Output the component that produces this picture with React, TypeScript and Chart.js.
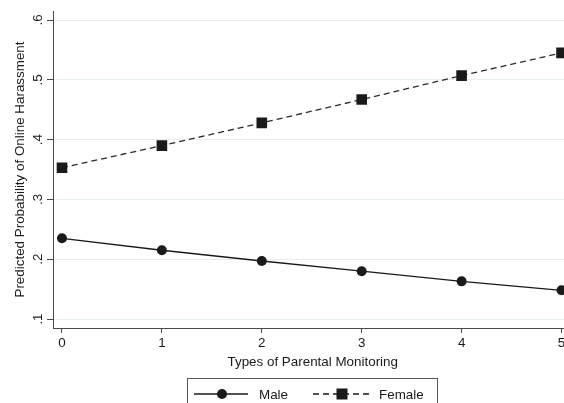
import React, { useEffect, useRef } from "react";
import { Chart, registerables } from "chart.js";

Chart.register(...registerables);

const monitoringTypes = [0, 1, 2, 3, 4, 5];
const maleProb = [0.235, 0.215, 0.197, 0.18, 0.163, 0.148];
const femaleProb = [0.353, 0.39, 0.428, 0.467, 0.507, 0.545];
const yTickValues = [0.1, 0.2, 0.3, 0.4, 0.5, 0.6];
const xTickValues = [0, 1, 2, 3, 4, 5];
const seriesLabels = ["Male", "Female"];
const xTitle = "Types of Parental Monitoring";
const yTitle = "Predicted Probability of Online Harassment";

const FONT = "'Liberation Sans', Arial, Helvetica, sans-serif";
const FS = 13.4;
const INK = "#1a1a1a";
const AXIS = "#4a4a4a";

const legendPlugin = {
  id: "stataLegend",
  afterDraw(chart: any) {
    const { ctx, chartArea } = chart;
    const cx = 312;
    const boxL = cx - 125;
    const boxW = 250;
    const boxT = 378;
    const midY = 394;
    ctx.save();
    ctx.strokeStyle = "#555";
    ctx.lineWidth = 1;
    ctx.strokeRect(boxL + 0.5, boxT + 0.5, boxW, 40);
    ctx.fillStyle = INK;
    ctx.strokeStyle = INK;
    ctx.lineWidth = 1.3;
    // Male sample
    ctx.beginPath();
    ctx.moveTo(boxL + 7, midY);
    ctx.lineTo(boxL + 61, midY);
    ctx.stroke();
    ctx.beginPath();
    ctx.arc(boxL + 35, midY, 5, 0, Math.PI * 2);
    ctx.fill();
    // Female sample
    ctx.setLineDash([6, 4]);
    ctx.beginPath();
    ctx.moveTo(boxL + 126, midY);
    ctx.lineTo(boxL + 184, midY);
    ctx.stroke();
    ctx.setLineDash([]);
    ctx.fillRect(boxL + 155 - 5.5, midY - 5.5, 11, 11);
    ctx.font = `${FS}px ${FONT}`;
    ctx.textBaseline = "middle";
    ctx.textAlign = "left";
    ctx.fillText(seriesLabels[0], boxL + 72, midY + 1);
    ctx.fillText(seriesLabels[1], boxL + 192, midY + 1);
    ctx.restore();
  },
};

export default function App() {
  const ref = useRef<HTMLCanvasElement | null>(null);

  useEffect(() => {
    document.body.style.margin = "0";
    const canvas = ref.current;
    if (!canvas) return;
    const chart = new Chart(canvas, {
      type: "line",
      data: {
        datasets: [
          {
            label: seriesLabels[0],
            data: monitoringTypes.map((x, i) => ({ x, y: maleProb[i] })),
            borderColor: INK,
            backgroundColor: INK,
            borderWidth: 1.3,
            pointStyle: "circle",
            pointRadius: 5,
            pointBackgroundColor: INK,
            pointBorderWidth: 0,
            tension: 0,
          },
          {
            label: seriesLabels[1],
            data: monitoringTypes.map((x, i) => ({ x, y: femaleProb[i] })),
            borderColor: "#2a2a2a",
            backgroundColor: INK,
            borderWidth: 1.3,
            borderDash: [6, 4],
            pointStyle: "rect",
            pointRadius: 7.5,
            pointBackgroundColor: INK,
            pointBorderWidth: 0,
            tension: 0,
          },
        ],
      },
      options: {
        animation: false,
        responsive: false,
        devicePixelRatio: 1,
        layout: { padding: { top: 10, left: 0, right: 0, bottom: 0 } },
        plugins: {
          legend: { display: false },
          tooltip: { enabled: false },
        },
        scales: {
          x: {
            type: "linear",
            min: -0.09,
            max: 5.11,
            afterBuildTicks: (scale: any) => {
              scale.ticks = xTickValues.map((v) => ({ value: v }));
            },
            afterFit: (scale: any) => {
              scale.height = 75;
            },
            ticks: {
              color: INK,
              font: { size: FS, family: FONT },
              padding: 2,
              maxRotation: 0,
              callback: (v: any) => String(v),
            },
            grid: {
              drawOnChartArea: false,
              drawTicks: true,
              tickLength: 5,
              tickColor: AXIS,
            },
            border: { display: true, color: AXIS, width: 1 },
            title: {
              display: true,
              text: xTitle,
              color: INK,
              font: { size: FS, family: FONT },
              padding: { top: 0, bottom: 33 },
            },
          },
          y: {
            type: "linear",
            min: 0.085,
            max: 0.615,
            afterBuildTicks: (scale: any) => {
              scale.ticks = yTickValues.map((v) => ({ value: v }));
            },
            afterFit: (scale: any) => {
              scale.width = 53;
            },
            ticks: {
              color: INK,
              font: { size: FS, family: FONT },
              minRotation: 90,
              maxRotation: 90,
              crossAlign: "center",
              callback: (v: any) => "." + Math.round(Number(v) * 10),
            },
            grid: {
              drawOnChartArea: true,
              color: "#e6efef",
              lineWidth: 1,
              drawTicks: true,
              tickLength: 6,
              tickColor: AXIS,
            },
            border: { display: true, color: AXIS, width: 1 },
            title: {
              display: true,
              text: yTitle,
              color: INK,
              font: { size: FS, family: FONT },
              padding: { top: 12, bottom: 0 },
            },
          },
        },
      },
      plugins: [legendPlugin],
    } as any);
    return () => chart.destroy();
  }, []);

  return (
    <div style={{ position: "absolute", left: 0, top: 0, width: 564, height: 403, overflow: "hidden", background: "#fff" }}>
      <canvas ref={ref} width={580} height={403} style={{ display: "block" }} />
    </div>
  );
}
